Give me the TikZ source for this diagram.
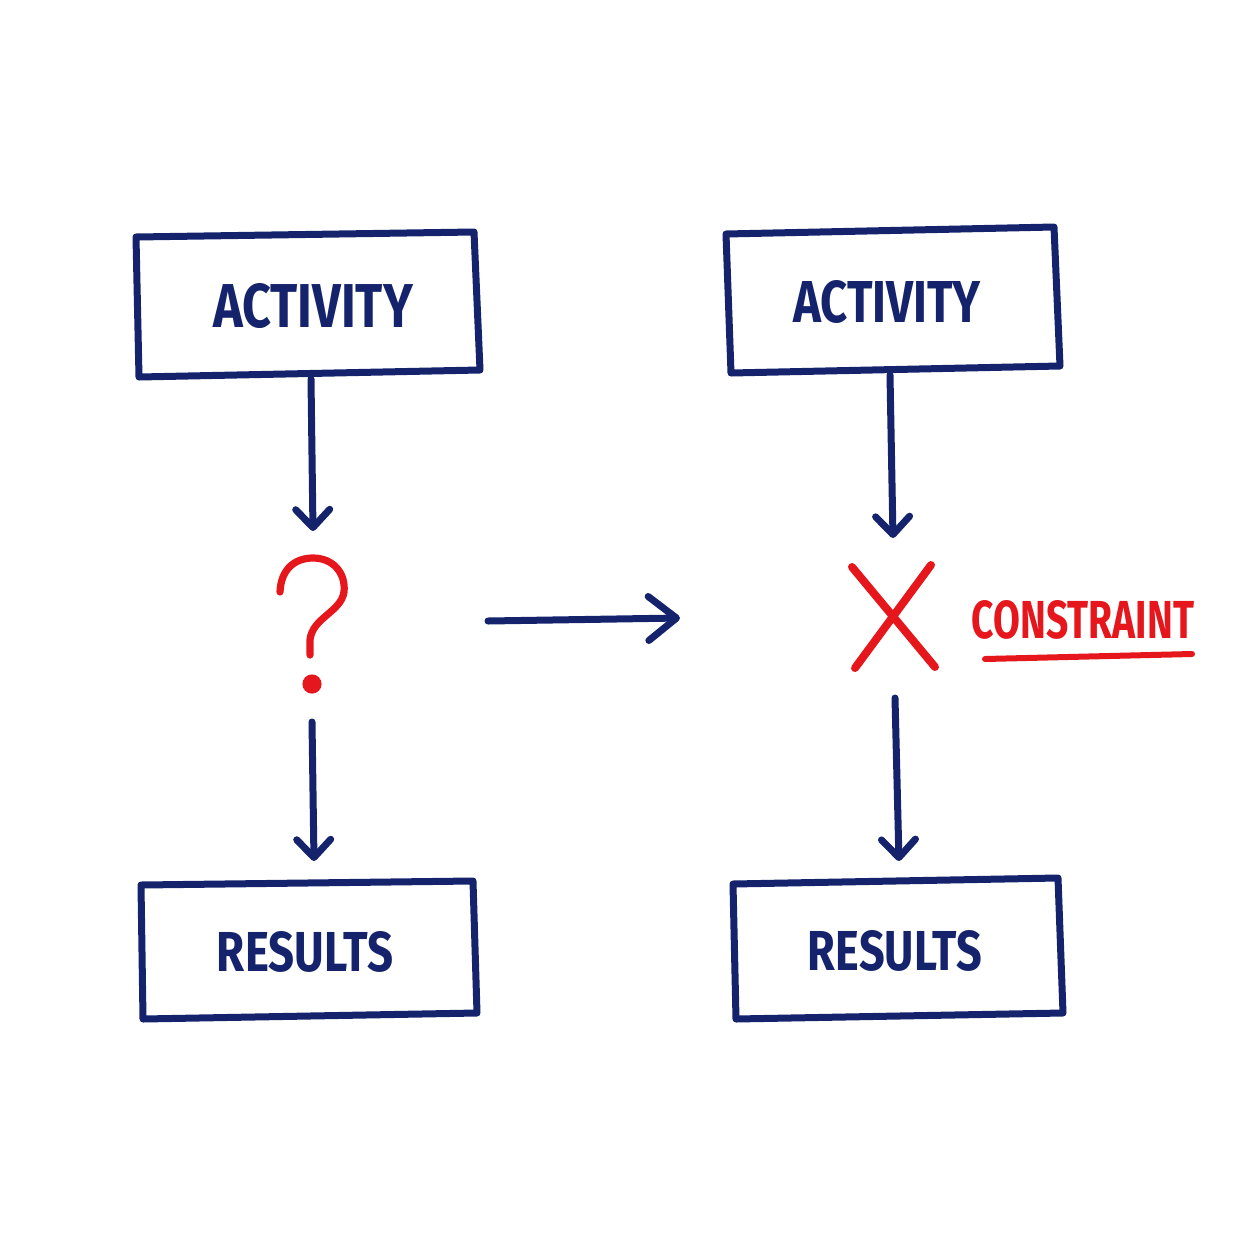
\documentclass[tikz,border=0pt]{standalone}
\usepackage{graphicx}
\usepackage{fontspec}
\setmainfont{Fira Sans}
\usetikzlibrary{arrows.meta}
\definecolor{navy}{HTML}{14236B}
\definecolor{marker}{HTML}{E6171C}
\begin{document}
\begin{tikzpicture}[x=0.5pt,y=-0.5pt,
  pen/.style={draw=navy, line width=3.5pt, line cap=round, line join=round},
  redpen/.style={draw=marker, line width=4pt, line cap=round, line join=round},
  flow/.style={pen, -{Straight Barb[length=9pt,width=17pt,round]}},
  bigflow/.style={pen, -{Straight Barb[length=14pt,width=22pt,round]}},
  lbl/.style={inner sep=0pt, text=navy, font=\bfseries},
  redlbl/.style={inner sep=0pt, text=marker, font=\bfseries}]
\useasboundingbox (0,0) rectangle (1254,1254);
% boxes
\draw[pen] (136,237) -- (474,232) -- (480,370) -- (139,377) -- cycle;
\draw[pen] (726,234) -- (1054,227) -- (1060,366) -- (731,373) -- cycle;
\draw[pen] (141,885) -- (473,881) -- (477,1013) -- (143,1019) -- cycle;
\draw[pen] (733,884) -- (1058,878) -- (1063,1013) -- (736,1019) -- cycle;
% labels
\node[lbl] (actL) at (313,306) {\resizebox{100pt}{22pt}{ACTIVITY}};
\node[lbl] (actR) at (887,302) {\resizebox{94pt}{21pt}{ACTIVITY}};
\node[lbl] (resL) at (305,952) {\resizebox{88pt}{20pt}{RESULTS}};
\node[lbl] (resR) at (895,951) {\resizebox{87pt}{20pt}{RESULTS}};
\node[redlbl] (con) at (1083,620) {\resizebox{111pt}{19pt}{CONSTRAINT}};
% connector coordinates
\coordinate (a1s) at (311,379);
\coordinate (a1e) at (313,531);
\coordinate (a2s) at (312,722);
\coordinate (a2e) at (314,861);
\coordinate (a3s) at (890,375);
\coordinate (a3e) at (893,538);
\coordinate (a4s) at (895,698);
\coordinate (a4e) at (899,861);
\coordinate (hs) at (488,621);
\coordinate (he) at (680,618);
\coordinate (u1) at (985,659);
\coordinate (u2) at (1192,654);
% arrows
\draw[flow] (a1s) -- (a1e);
\draw[flow] (a2s) -- (a2e);
\draw[flow] (a3s) -- (a3e);
\draw[flow] (a4s) -- (a4e);
\draw[bigflow] (hs) -- (he);
% question mark
\draw[redpen, line width=3.6pt] (280,592) .. controls (281,568) and (296,558) .. (313,558)
  .. controls (333,558) and (346,573) .. (344,592)
  .. controls (341,612) and (312,618) .. (310,640) -- (310,655);
\fill[marker] (312,684) circle[radius=4.8pt];
% cross
\draw[redpen] (852,567) -- (935,667);
\draw[redpen] (931,565) -- (855,668);
% underline
\draw[redpen, line width=3pt] (u1) -- (u2);
\end{tikzpicture}
\end{document}
